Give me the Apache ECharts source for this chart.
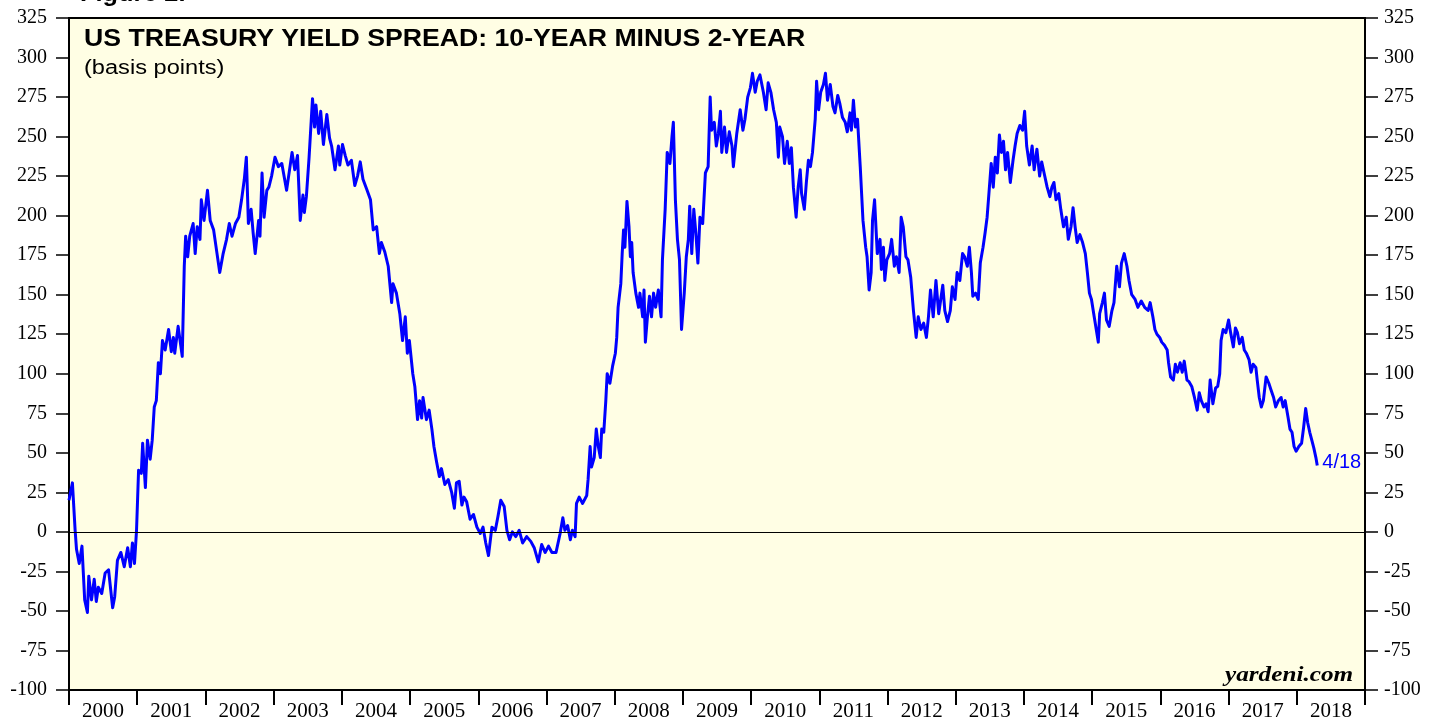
<!DOCTYPE html>
<html>
<head>
<meta charset="utf-8">
<script src="https://cdn.jsdelivr.net/npm/echarts@6/dist/echarts.min.js"></script>
<style>
html,body{margin:0;padding:0;background:#fff;}
#chart{width:1430px;height:719px;}
</style>
</head>
<body>
<div id="chart"></div>
<script>
const yearLabels = ['2000','2001','2002','2003','2004','2005','2006','2007','2008','2009','2010','2011','2012','2013','2014','2015','2016','2017','2018'];
const yTicks = { min: -100, max: 325, step: 25 };
const titleText = 'US TREASURY YIELD SPREAD: 10-YEAR MINUS 2-YEAR';
const subtitleText = '(basis points)';
const sourceText = 'yardeni.com';
const lastLabel = '4/18';

const dates = [
2000.00,2000.05,2000.09,2000.11,2000.15,2000.19,2000.21,2000.23,2000.27,2000.29,2000.33,2000.37,2000.40,2000.43,2000.48,2000.53,2000.58,2000.60,2000.64,2000.67,2000.71,2000.76,2000.81,2000.86,2000.90,2000.93,2000.96,2000.99,
2001.02,2001.06,2001.08,2001.12,2001.15,2001.19,2001.22,2001.25,2001.28,2001.31,2001.34,2001.37,2001.41,2001.46,2001.50,2001.53,2001.55,2001.60,2001.66,2001.69,2001.71,2001.74,2001.77,2001.82,2001.85,2001.88,2001.92,2001.94,2001.98,
2002.03,2002.07,2002.12,2002.17,2002.21,2002.26,2002.31,2002.35,2002.39,2002.44,2002.49,2002.53,2002.57,2002.60,2002.63,2002.67,2002.70,2002.73,2002.78,2002.80,2002.83,2002.86,2002.90,2002.93,2002.97,
2003.02,2003.07,2003.12,2003.19,2003.27,2003.31,2003.35,2003.39,2003.43,2003.45,2003.48,2003.52,2003.57,2003.60,2003.62,2003.66,2003.69,2003.73,2003.78,2003.82,2003.85,2003.90,2003.95,2003.97,
2004.01,2004.05,2004.09,2004.14,2004.19,2004.23,2004.27,2004.31,2004.37,2004.42,2004.46,2004.51,2004.55,2004.58,2004.63,2004.68,2004.73,2004.75,2004.80,2004.85,2004.89,2004.93,2004.96,2004.99,
2005.04,2005.07,2005.11,2005.14,2005.17,2005.19,2005.24,2005.28,2005.32,2005.35,2005.39,2005.43,2005.46,2005.51,2005.56,2005.61,2005.65,2005.68,2005.72,2005.76,2005.79,2005.83,2005.88,2005.93,2005.98,
2006.03,2006.07,2006.11,2006.15,2006.20,2006.25,2006.29,2006.33,2006.38,2006.42,2006.46,2006.50,2006.55,2006.60,2006.65,2006.71,2006.77,2006.82,2006.88,2006.93,2006.98,
2007.03,2007.08,2007.14,2007.20,2007.24,2007.27,2007.31,2007.35,2007.38,2007.42,2007.44,2007.48,2007.53,2007.59,2007.61,2007.64,2007.66,2007.70,2007.73,2007.76,2007.79,2007.81,2007.84,2007.87,2007.89,2007.93,2007.97,
2008.01,2008.03,2008.05,2008.09,2008.11,2008.13,2008.15,2008.18,2008.21,2008.23,2008.25,2008.27,2008.31,2008.35,2008.37,2008.41,2008.43,2008.45,2008.48,2008.51,2008.54,2008.57,2008.60,2008.64,2008.68,2008.70,2008.74,2008.77,2008.81,2008.84,2008.86,2008.89,2008.92,2008.95,2008.98,
2009.02,2009.05,2009.08,2009.10,2009.13,2009.16,2009.19,2009.22,2009.25,2009.29,2009.33,2009.37,2009.40,2009.42,2009.46,2009.49,2009.52,2009.55,2009.57,2009.61,2009.64,2009.68,2009.72,2009.74,2009.79,2009.84,2009.88,2009.91,2009.95,2009.99,
2010.02,2010.06,2010.09,2010.13,2010.18,2010.22,2010.25,2010.29,2010.33,2010.37,2010.40,2010.42,2010.46,2010.49,2010.53,2010.56,2010.59,2010.62,2010.66,2010.69,2010.72,2010.74,2010.78,2010.81,2010.84,2010.87,2010.90,2010.94,2010.96,2010.99,
2011.02,2011.06,2011.09,2011.12,2011.16,2011.20,2011.23,2011.27,2011.30,2011.34,2011.38,2011.41,2011.45,2011.47,2011.50,2011.53,2011.56,2011.60,2011.62,2011.64,2011.68,2011.70,2011.73,2011.76,2011.78,2011.81,2011.85,2011.89,2011.91,2011.94,2011.96,2011.99,
2012.03,2012.06,2012.10,2012.13,2012.17,2012.20,2012.23,2012.27,2012.30,2012.34,2012.38,2012.42,2012.45,2012.49,2012.53,2012.57,2012.60,2012.63,2012.67,2012.71,2012.75,2012.78,2012.81,2012.84,2012.88,2012.92,2012.95,2012.99,
2013.02,2013.06,2013.10,2013.13,2013.17,2013.20,2013.23,2013.25,2013.29,2013.33,2013.36,2013.40,2013.43,2013.46,2013.49,2013.52,2013.55,2013.58,2013.61,2013.64,2013.67,2013.70,2013.73,2013.76,2013.80,2013.84,2013.87,2013.90,2013.94,2013.98,
2014.01,2014.04,2014.08,2014.12,2014.15,2014.19,2014.23,2014.26,2014.30,2014.34,2014.38,2014.41,2014.44,2014.47,2014.51,2014.54,2014.58,2014.62,2014.65,2014.69,2014.72,2014.75,2014.78,2014.82,2014.86,2014.90,2014.93,2014.96,2014.99,
2015.03,2015.06,2015.09,2015.11,2015.15,2015.18,2015.21,2015.25,2015.29,2015.32,2015.36,2015.40,2015.43,2015.47,2015.51,2015.54,2015.58,2015.63,2015.67,2015.72,2015.77,2015.82,2015.85,2015.89,2015.92,2015.95,2015.99,
2016.02,2016.06,2016.10,2016.12,2016.15,2016.19,2016.22,2016.25,2016.29,2016.32,2016.35,2016.39,2016.42,2016.46,2016.50,2016.54,2016.57,2016.60,2016.64,2016.67,2016.70,2016.73,2016.77,2016.81,2016.84,2016.87,2016.89,2016.92,2016.96,
2017.00,2017.03,2017.07,2017.10,2017.13,2017.16,2017.20,2017.23,2017.26,2017.30,2017.33,2017.36,2017.40,2017.42,2017.45,2017.48,2017.51,2017.55,2017.59,2017.62,2017.66,2017.69,2017.73,2017.77,2017.80,2017.83,2017.87,2017.90,2017.93,2017.96,2017.99,
2018.03,2018.07,2018.10,2018.13,2018.16,2018.19,2018.22,2018.25,2018.28,2018.30
];

const spread = [
20,31,1,-11,-20,-9,-26,-43,-51,-28,-43,-30,-44,-35,-39,-26,-24,-32,-48,-41,-18,-13,-22,-10,-22,-7,-20,1,
39,37,56,28,58,46,58,79,83,107,100,121,115,128,114,123,113,130,111,168,187,174,187,195,176,193,185,210,197,
216,197,191,176,164,176,185,195,187,195,199,210,223,237,195,204,189,176,197,187,227,199,216,218,225,
237,231,233,216,240,229,238,197,213,202,212,237,274,256,270,252,266,245,264,249,244,229,244,232,
245,238,232,235,219,225,234,223,216,210,191,193,176,183,177,168,145,157,151,138,121,136,113,121,
100,92,71,83,72,85,71,77,65,54,44,35,40,30,33,25,15,31,32,17,22,19,8,11,3,
-1,3,-7,-15,3,1,10,20,16,1,-5,0,-3,1,-7,-3,-6,-10,-19,-8,-13,
-9,-13,-13,-1,9,1,4,-5,1,-3,18,22,18,23,33,54,41,47,65,54,47,65,63,83,100,94,105,
113,123,142,157,176,191,180,209,193,174,183,164,151,142,151,136,153,120,136,149,136,151,142,153,136,172,204,240,233,250,259,210,185,172,128,
151,174,185,206,176,204,189,170,199,195,227,231,275,254,259,244,252,266,240,256,240,253,244,231,252,267,254,261,275,281,
290,278,285,289,278,267,284,278,267,259,237,256,250,233,247,233,243,218,199,218,229,214,204,221,235,231,240,261,285,267,
278,283,290,273,283,269,265,276,271,262,259,253,265,254,273,256,261,231,214,197,180,174,153,164,197,210,176,185,166,180,159,172,
176,185,168,174,164,199,193,174,172,161,140,123,136,128,132,123,136,153,136,159,138,147,156,140,133,140,155,147,
164,159,176,174,168,180,164,149,151,147,170,180,189,199,216,233,218,237,227,251,240,247,229,240,221,235,244,252,257,254,
266,244,232,244,229,242,225,234,226,218,212,218,221,210,214,204,193,199,185,193,205,193,183,188,183,176,164,151,147,
136,128,120,138,145,151,134,130,140,145,168,155,170,176,168,159,150,147,142,146,142,140,145,136,128,125,123,
120,118,115,107,98,96,106,101,107,101,108,96,95,92,85,77,88,83,79,81,76,96,81,91,92,100,121,128,126,
134,126,117,129,126,119,123,115,113,109,101,106,104,96,85,79,83,98,94,90,85,79,83,85,79,83,73,65,63,54,51,
54,56,66,78,69,63,58,53,47,42
];

const seriesData = dates.map((d, i) => [d, spread[i]]);

const chart = echarts.init(document.getElementById('chart'), null, { renderer: 'canvas' });
const serif = 'Liberation Serif, Times New Roman, serif';
const sans = 'Liberation Sans, Arial, Helvetica, sans-serif';

const yAxisCommon = {
  type: 'value', min: yTicks.min, max: yTicks.max, interval: yTicks.step,
  splitLine: { show: false },
  axisLine: { show: true, onZero: false, lineStyle: { color: '#000', width: 2 } },
  axisTick: { show: true, length: 13, lineStyle: { color: '#000', width: 1.5 } },
  axisLabel: { color: '#000', fontFamily: serif, fontSize: 20 }
};

chart.setOption({
  animation: false,
  backgroundColor: '#ffffff',
  grid: { left: 69, right: 65, top: 18, bottom: 29, containLabel: false, outerBoundsMode: 'none',
    show: true, backgroundColor: '#FFFEE4', borderColor: '#000', borderWidth: 2 },
  xAxis: [
    { type: 'value', min: 2000, max: 2019, show: false },
    { type: 'category', data: yearLabels, position: 'bottom', boundaryGap: true,
      axisLine: { show: true, onZero: false, lineStyle: { color: '#000', width: 2 } },
      axisTick: { show: true, length: 15, lineStyle: { color: '#000', width: 2 } },
      axisLabel: { color: '#000', fontFamily: serif, fontSize: 21, margin: 11, interval: 0 },
      splitLine: { show: false } }
  ],
  yAxis: [
    Object.assign({}, yAxisCommon, { position: 'left', axisLabel: Object.assign({}, yAxisCommon.axisLabel, { margin: 22 }) }),
    Object.assign({}, yAxisCommon, { position: 'right', axisLabel: Object.assign({}, yAxisCommon.axisLabel, { margin: 19 }) })
  ],
  graphic: [
    { type: 'text', x: 80, y: -17, scaleX: 1.1, style: { text: 'Figure 2.', font: 'bold 23px ' + sans, fill: '#000' } },
    { type: 'text', x: 84, y: 27, scaleX: 1.11, style: { text: titleText, font: 'bold 24px ' + sans, fill: '#000' } },
    { type: 'text', x: 84, y: 58, scaleX: 1.18, style: { text: subtitleText, font: '20px ' + sans, fill: '#000' } },
    { type: 'text', x: 1225, y: 665, scaleX: 1.2, style: { text: sourceText, font: 'italic bold 21px ' + serif, fill: '#000' } }
  ],
  series: [{
    type: 'line', xAxisIndex: 0, yAxisIndex: 0, data: seriesData,
    showSymbol: false, symbol: 'none',
    lineStyle: { color: '#0000FF', width: 3, join: 'round' },
    endLabel: { show: true, formatter: lastLabel, color: '#0000FF', fontFamily: sans, fontSize: 20, distance: 5, offset: [0, -3] },
    markLine: { silent: true, symbol: 'none', label: { show: false },
      lineStyle: { color: '#000', width: 1.2, type: 'solid' }, data: [{ yAxis: 0 }] },
    z: 3
  }]
});
</script>
</body>
</html>
